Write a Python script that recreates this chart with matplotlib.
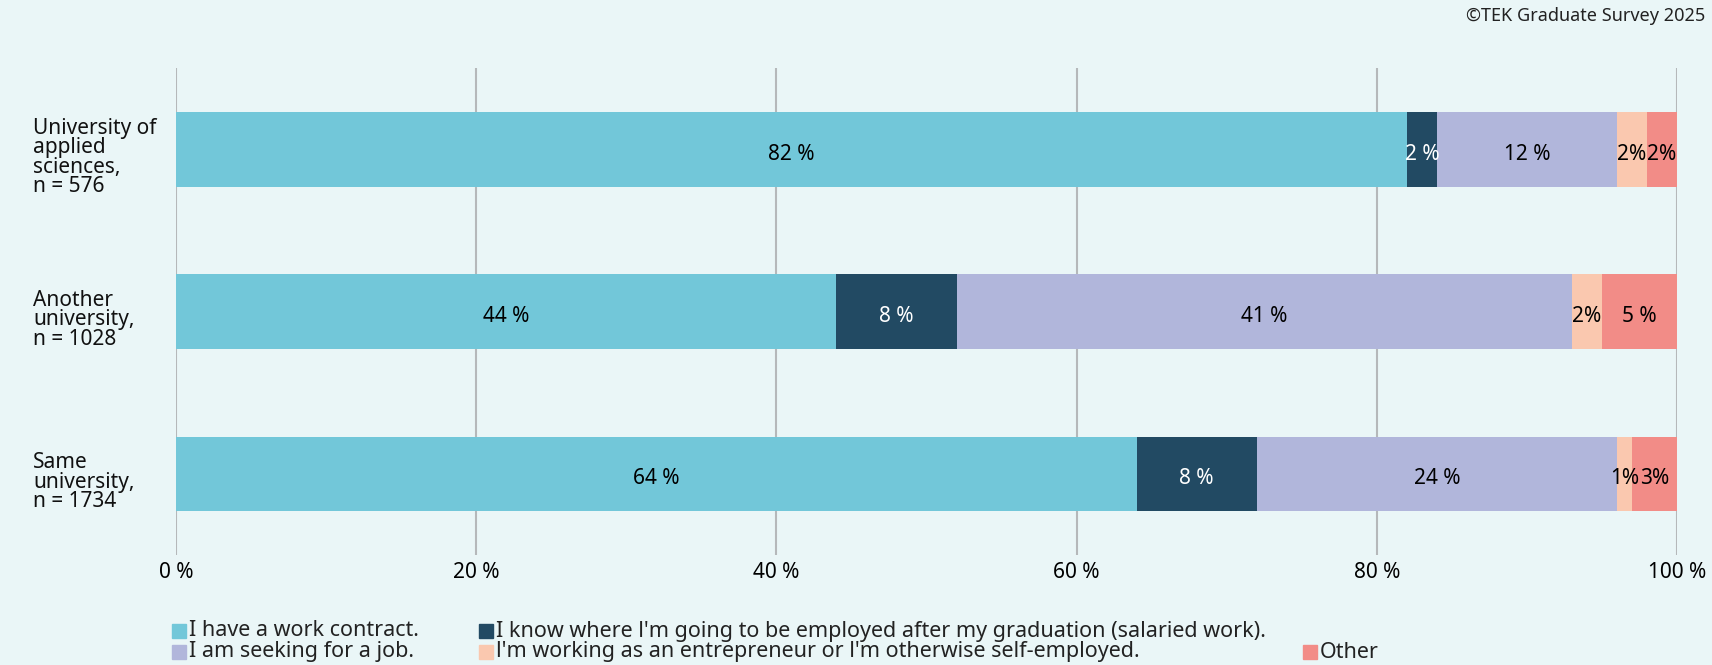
import numpy as np
import matplotlib
matplotlib.use("Agg")
import matplotlib.pyplot as plt
from matplotlib.patches import Rectangle
from matplotlib.transforms import ScaledTranslation

plt.rcParams['font.family'] = ['Noto Sans', 'DejaVu Sans']

# data
groups = ["University of\napplied\nsciences,\nn = 576",
          "Another\nuniversity,\nn = 1028",
          "Same\nuniversity,\nn = 1734"]
series = ["I have a work contract.",
          "I know where l'm going to be employed after my graduation (salaried work).",
          "I am seeking for a job.",
          "l'm working as an entrepreneur or l'm otherwise self-employed.",
          "Other"]
values = [
    [82, 44, 64],   # work contract
    [2, 8, 8],      # know where employed
    [12, 41, 24],   # seeking
    [2, 2, 1],      # entrepreneur
    [2, 5, 3],      # other
]
labels = [
    ["82 %", "44 %", "64 %"],
    ["2 %", "8 %", "8 %"],
    ["12 %", "41 %", "24 %"],
    ["2%", "2%", "1%"],
    ["2%", "5 %", "3%"],
]
colors = ["#72C7D9", "#224A63", "#B1B6DB", "#FAC8AF", "#F28C87"]
text_colors = ["black", "white", "black", "black", "black"]
xticks = [0, 20, 40, 60, 80, 100]

bg = "#EAF6F7"
fig = plt.figure(figsize=(17.12, 6.65), dpi=100, facecolor=bg)
ax = fig.add_axes([0.1028, 0.1654, 0.9796 - 0.1028, 0.8977 - 0.1654])
ax.set_facecolor(bg)

y = np.arange(len(groups))
left = np.zeros(len(groups))
for i in range(len(series)):
    v = np.array(values[i], dtype=float)
    ax.barh(y, v, left=left, height=0.46, color=colors[i], zorder=3)
    for j in range(len(groups)):
        ax.text(left[j] + v[j] / 2, y[j] + 0.03, labels[i][j], ha="center", va="center",
                fontsize=15, color=text_colors[i], zorder=4)
    left += v

ax.set_xlim(0, 100)
ax.set_ylim(2.5, -0.5)
ax.set_xticks(xticks)
ax.set_xticklabels([f"{t} %" for t in xticks], fontsize=15)
ax.set_yticks(y)
ax.set_yticklabels(groups, fontsize=15, ha="left", linespacing=0.9, color="#111111")
ax.tick_params(axis="y", length=0, pad=143 * 0.72)
ax.tick_params(axis="x", length=0, pad=5)
# nudge the category labels down a little
shift = ScaledTranslation(0, -6.5 / 100, fig.dpi_scale_trans)
for lab in ax.get_yticklabels():
    lab.set_transform(lab.get_transform() + shift)
ax.grid(axis="x", color="#B5B8BA", linewidth=1.5, zorder=0)
for s in ax.spines.values():
    s.set_visible(False)

fig.text(1705 / 1712, 1 - 16 / 665, "©TEK Graduate Survey 2025", ha="right", va="center",
         fontsize=13, color="#222222")

# legend, drawn by hand
leg_pos = [(172, 631), (479, 631), (172, 652), (479, 652), (1303, 652)]
W, H = 1712, 665
for (px, py), name, c in zip(leg_pos, series, colors):
    fig.patches.append(Rectangle((px / W, 1 - (py + 7) / H), 14 / W, 14 / H,
                                 transform=fig.transFigure, color=c))
    fig.text((px + 17) / W, 1 - py / H, name, ha="left", va="center", fontsize=15.5,
             color="#222222")

fig.savefig("out.png", dpi=100, facecolor=bg)
